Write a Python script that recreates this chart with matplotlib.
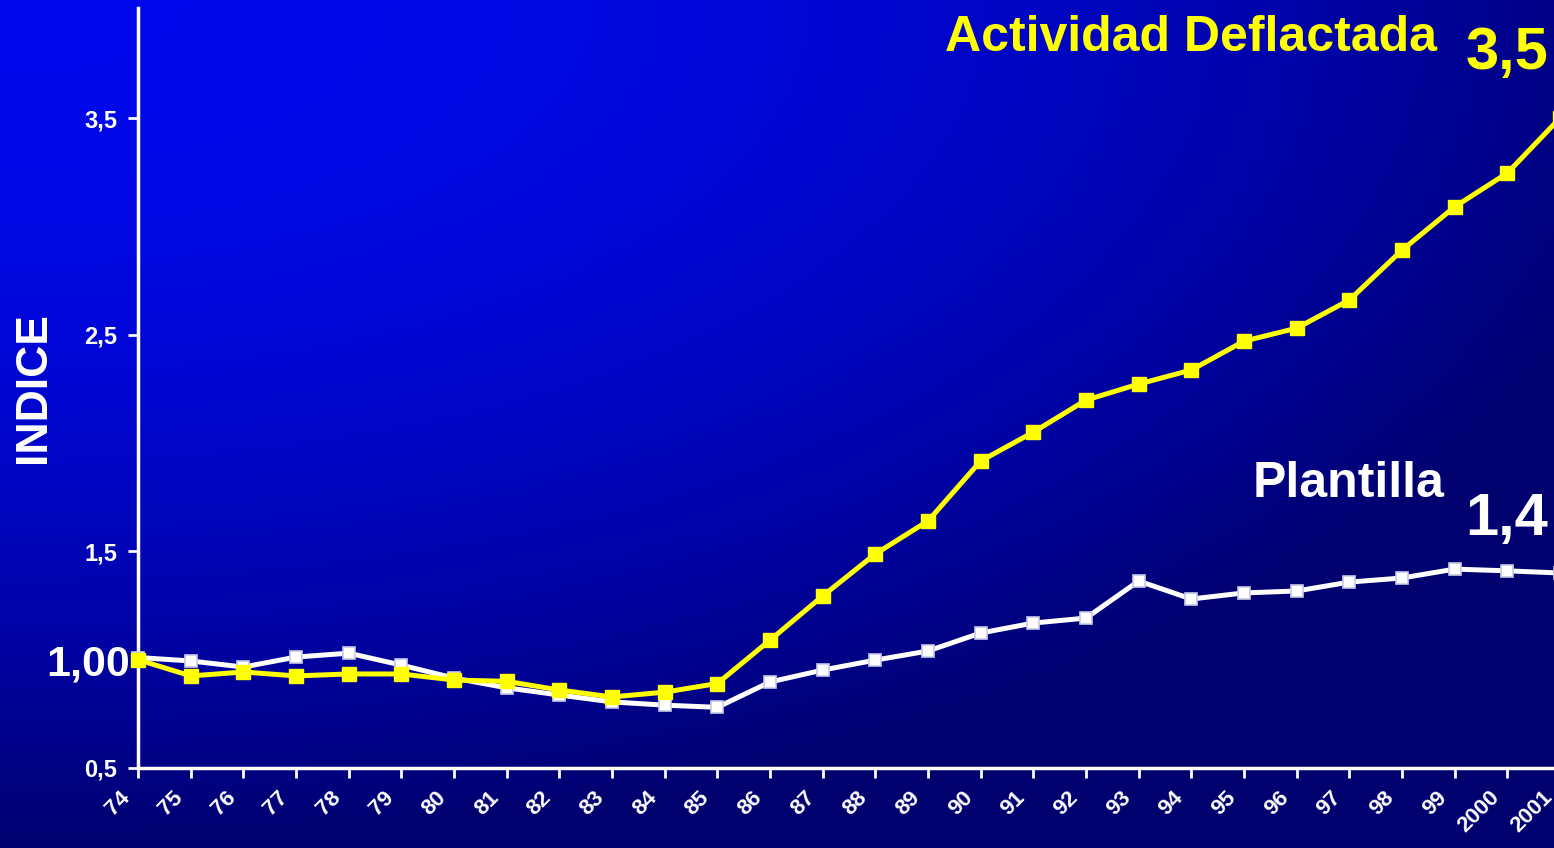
import numpy as np
import matplotlib
matplotlib.use("Agg")
import matplotlib.pyplot as plt
import matplotlib.transforms as mtransforms

years = list(range(1974, 2002))
year_labels = ["74", "75", "76", "77", "78", "79", "80", "81", "82", "83", "84", "85",
               "86", "87", "88", "89", "90", "91", "92", "93", "94", "95", "96", "97",
               "98", "99", "2000", "2001"]
actividad = [1.00, 0.925, 0.943, 0.925, 0.934, 0.934, 0.906, 0.90, 0.86, 0.828, 0.85, 0.89,
             1.09, 1.294, 1.488, 1.64, 1.917, 2.05, 2.198, 2.272, 2.337, 2.47, 2.53, 2.66,
             2.89, 3.09, 3.246, 3.50]
plantilla = [1.01, 0.994, 0.966, 1.012, 1.03, 0.975, 0.915, 0.87, 0.837, 0.805, 0.79, 0.78,
             0.897, 0.952, 0.998, 1.04, 1.123, 1.169, 1.192, 1.363, 1.28, 1.308, 1.317, 1.358,
             1.377, 1.418, 1.41, 1.40]
y_ticks = [0.5, 1.5, 2.5, 3.5]
y_tick_labels = ["0,5", "1,5", "2,5", "3,5"]

plt.rcParams['font.family'] = ['Liberation Sans', 'DejaVu Sans']
W, H = 1554, 848
fig = plt.figure(figsize=(W / 100, H / 100), dpi=100)

# gradient background: bright blue top-left, navy towards bottom and right
bg = fig.add_axes([0, 0, 1, 1])
gx, gy = np.meshgrid(np.linspace(0, 1, 400), np.linspace(0, 1, 220))
g = np.clip(0.8 * gx ** 2.2 + gy ** 2.0, 0, 1)
img = np.zeros((220, 400, 3))
img[..., 2] = (235 - 125 * g) / 255
img[..., 1] = (8 * (1 - g)) / 255
bg.imshow(img, aspect='auto', extent=[0, 1, 0, 1], origin='upper')
bg.axis('off')

x0 = 138 / W
x1 = 1560 / W
y0 = 1 - 768 / H
# 0.5 at 768px, 3.5 at 118px; axis runs up to 8px
top_val = 3.5 + (118 - 8) / (650 / 3.0)
ax = fig.add_axes([x0, y0, x1 - x0, (768 - 8) / H])
ax.set_facecolor('none')
ax.set_xlim(1974, 2001)
ax.set_ylim(0.5, top_val)

ax.plot(years, plantilla, color='white', lw=3.6, marker='s', ms=8.5,
        mfc='white', mec='#c8c8e6', mew=1.2, zorder=3, clip_on=False)
ax.plot(years, actividad, color='#ffff00', lw=3.6, marker='s', ms=10,
        mfc='#ffff00', mec='#ffff00', zorder=4, clip_on=False)

for s in ['top', 'right']:
    ax.spines[s].set_visible(False)
for s in ['left', 'bottom']:
    ax.spines[s].set_color('white')
    ax.spines[s].set_linewidth(2.5)

ax.set_yticks(y_ticks)
ax.set_yticklabels(y_tick_labels)
ax.set_xticks(years)
ax.set_xticklabels(year_labels, rotation=45, ha='right', va='center',
                   rotation_mode='anchor')
ax.tick_params(axis='both', colors='white', width=2, length=7, direction='out')
ax.tick_params(axis='y', labelsize=17, pad=8)
ax.tick_params(axis='x', labelsize=16, pad=12)
shift = mtransforms.ScaledTranslation(-11 / 100, 0, fig.dpi_scale_trans)
for lab in ax.get_xticklabels():
    lab.set_fontweight('bold')
    lab.set_transform(lab.get_transform() + shift)
for lab in ax.get_yticklabels():
    lab.set_fontweight('bold')

fig.text(34 / W, 1 - 388 / H, "INDICE", color='white', fontsize=32,
         fontweight='bold', rotation=90, ha='center', va='center')
fig.text(130 / W, 1 - 665 / H, "1,00", color='white',
         fontsize=31, fontweight='bold', ha='right', va='center')

fig.text(1437 / W, 1 - 38 / H, "Actividad Deflactada", color='#ffff00',
         fontsize=36, fontweight='bold', ha='right', va='center')
fig.text(1548 / W, 1 - 53 / H, "3,5", color='#ffff00',
         fontsize=43, fontweight='bold', ha='right', va='center')
fig.text(1445 / W, 1 - 484 / H, "Plantilla", color='white',
         fontsize=36, fontweight='bold', ha='right', va='center')
fig.text(1548 / W, 1 - 519 / H, "1,4", color='white',
         fontsize=43, fontweight='bold', ha='right', va='center')

fig.savefig("out.png", dpi=100)
